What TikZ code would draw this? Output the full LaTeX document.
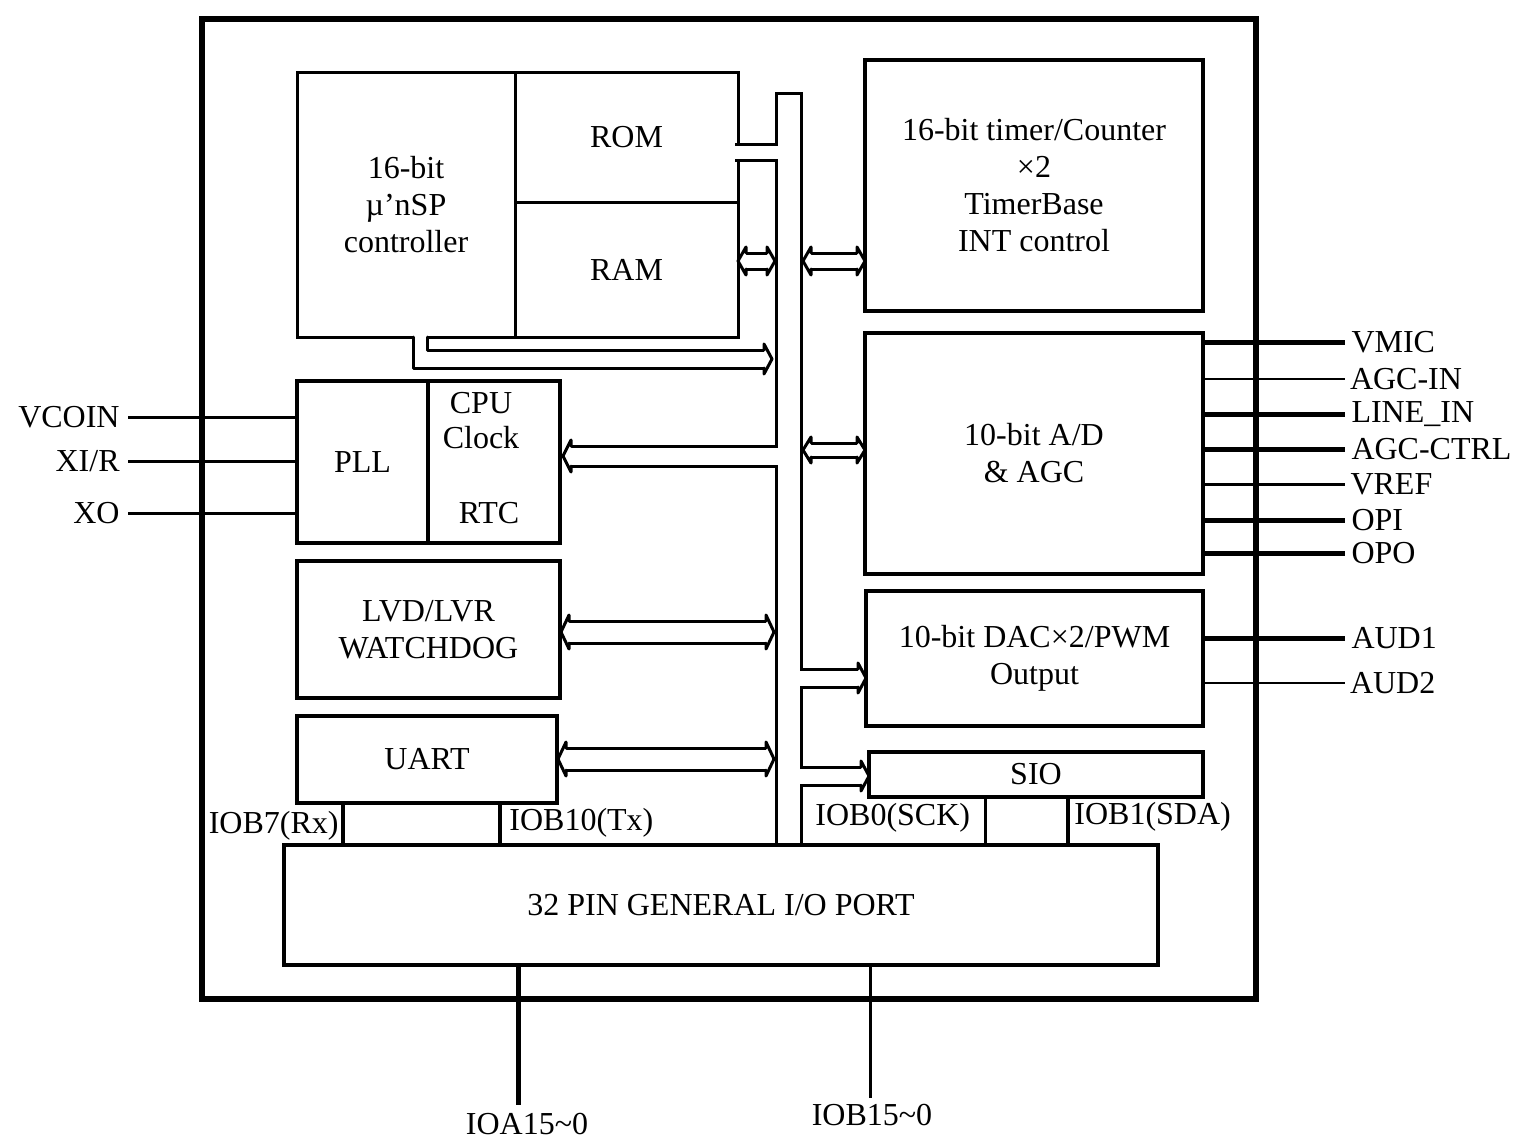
\documentclass[tikz,border=0pt]{standalone}
\usepackage{fontspec}
\setmainfont{Liberation Serif}
\usetikzlibrary{fit}
\tikzset{
  blk/.style={draw, line width=2pt, inner sep=0pt},
  blkthin/.style={blk, line width=1.5pt},
  hl/.style={line width=1.5pt, line join=round, line cap=round},
  pinA/.style={line width=2.5pt},
  pinB/.style={line width=1.5pt},
  pinC/.style={line width=1pt},
  lbl/.style={inner sep=0pt},
  txt/.style={inner sep=0pt, align=center},
}
% block: style, name, fit corners, text
\newcommand\blockbox[4]{%
  \node[#1, fit={#3}] (#2) {};
  \node[txt] (#2-t) at (#2.center) {#4};}
\newcommand\headR[3]{%
  \fill[white] (#1,#2) -- ({#1-8},{#2-#3-6}) -- ({#1-8},{#2+#3+6}) -- cycle;
  \draw[hl] ({#1-8},{#2-#3}) -- ({#1-8},{#2-#3-6}) -- (#1,#2) -- ({#1-8},{#2+#3+6}) -- ({#1-8},{#2+#3});}
\newcommand\headL[3]{%
  \fill[white] (#1,#2) -- ({#1+8},{#2-#3-6}) -- ({#1+8},{#2+#3+6}) -- cycle;
  \draw[hl] ({#1+8},{#2-#3}) -- ({#1+8},{#2-#3-6}) -- (#1,#2) -- ({#1+8},{#2+#3+6}) -- ({#1+8},{#2+#3});}
\newcommand\fatarr[4]{%
  \fill[white] ({#1+8},{#3-#4}) rectangle ({#2-8},{#3+#4});
  \draw[hl] ({#1+8},{#3-#4}) -- ({#2-8},{#3-#4}) ({#1+8},{#3+#4}) -- ({#2-8},{#3+#4});
  \headL{#1}{#3}{#4}\headR{#2}{#3}{#4}}
\begin{document}
\begin{tikzpicture}[x=0.5pt,y=-0.5pt,font=\fontsize{16}{18.5}\selectfont]
\useasboundingbox (0,0) rectangle (1515,1141);
% chip outline
\node[draw, line width=3pt, inner sep=0pt, fit={(202,19)(1256,999)}] (chip) {};

% blocks
\blockbox{blkthin}{ctrl}{(297,72)(515,337)}{16-bit\\µ'nSP\\controller}
\blockbox{blkthin}{rom}{(515,72)(738,202)}{ROM}
\blockbox{blkthin}{ram}{(515,202)(738,337)}{RAM}
\blockbox{blk}{timer}{(865,60)(1203,311)}{16-bit timer/Counter\\×2\\TimerBase\\INT control}
\blockbox{blk}{adc}{(865,333)(1203,574)}{10-bit A/D\\\& AGC}
\blockbox{blk}{dac}{(866,591)(1203,726)}{10-bit DAC×2/PWM\\Output}
\blockbox{blk}{sio}{(869,752)(1203,797)}{SIO}
\blockbox{blk}{pll}{(297,381)(428,543)}{PLL}
\node[blk, fit={(428,381)(560,543)}] (clk) {};
\node[lbl] (cpu) at (481,403) {CPU};
\node[lbl] (clock) at (481,438) {Clock};
\node[lbl] (rtc) at (489,513) {RTC};
\blockbox{blk}{lvd}{(297,561)(560,698)}{LVD/LVR\\WATCHDOG}
\blockbox{blk}{uart}{(297,716)(557,803)}{UART}

% internal bus with merging channels (outline pass, then interior pass)
\draw[line width=14pt] (788.5,92) -- (788.5,845);
\draw[line width=9.5pt] (735,152) -- (788.5,152);
\draw[line width=11.5pt] (571,456) -- (788.5,456);
\draw[line width=10.5pt] (788.5,678) -- (858,678);
\draw[line width=10.5pt] (788.5,776) -- (861,776);
\draw[white, line width=11pt] (788.5,95) -- (788.5,846);
\draw[white, line width=6.5pt] (735,152) -- (788.5,152);
\draw[white, line width=8.5pt] (571,456) -- (788.5,456);
\draw[white, line width=7.5pt] (788.5,678) -- (858,678);
\draw[white, line width=7.5pt] (788.5,776) -- (861,776);
\headL{563}{456}{10}
\headR{866}{678}{9}
\headR{869}{776}{9}

% controller channel to bus
\fill[white] (413,334) -- (413,368) -- (764,368) -- (764,350) -- (427,350) -- (427,334) -- cycle;
\draw[hl] (413,337) -- (413,368) -- (764,368) (427,337) -- (427,350) -- (764,350);
\headR{772}{359}{9}

% two-headed bus arrows
\fatarr{738}{775}{261}{8}
\fatarr{803}{865}{261}{8}
\fatarr{803}{865}{450}{7}
\fatarr{561}{774}{632}{11}
\fatarr{558}{774}{759}{11}

% I/O port
\blockbox{blk}{port}{(284,845)(1158,965)}{32 PIN GENERAL I/O PORT}

% port taps
\draw[line width=2pt] (343,803) -- (343,845);
\draw[line width=2pt] (500,803) -- (500,845);
\draw[line width=1.5pt] (985,797) -- (985,845);
\draw[line width=2pt] (1068,797) -- (1068,845);
\node[lbl, anchor=east] (rx) at (339,826) {IOB7(Rx)};
\node[lbl, anchor=west] (tx) at (509,823) {IOB10(Tx)};
\node[lbl, anchor=west] (sck) at (815,818) {IOB0(SCK)};
\node[lbl, anchor=west] (sda) at (1074,817) {IOB1(SDA)};

% bottom pins
\draw[line width=2.5pt] (518,965) -- (518,1105);
\node[lbl] (ioa) at (527,1124) {IOA15\textasciitilde0};
\draw[line width=1.5pt] (870,965) -- (870,1098);
\node[lbl] (iob) at (872,1115) {IOB15\textasciitilde0};

% left pins
\node[lbl, anchor=east] (vcoin) at (120,417) {VCOIN};
\node[lbl, anchor=east] (xi) at (120,461) {XI/R};
\node[lbl, anchor=east] (xo) at (120,513) {XO};
\draw[pinB] (128,417) -- (297,417);
\draw[pinB] (128,461) -- (297,461);
\draw[pinB] (128,513) -- (297,513);

% right pins
\draw[pinA] (1204,342) -- (1345,342) node[lbl, anchor=west, xshift=2pt] (vmic) {VMIC};
\draw[pinC] (1204,379) -- (1345,379) node[lbl, anchor=west, xshift=2pt] (agcin) {AGC-IN};
\draw[pinA] (1204,414) -- (1345,414) node[lbl, anchor=west, xshift=2pt] (linein) {LINE\_IN};
\draw[pinA] (1204,449) -- (1345,449) node[lbl, anchor=west, xshift=2pt] (agcctrl) {AGC-CTRL};
\draw[pinB] (1204,484) -- (1345,484) node[lbl, anchor=west, xshift=2pt] (vref) {VREF};
\draw[pinA] (1204,520) -- (1345,520) node[lbl, anchor=west, xshift=2pt] (opi) {OPI};
\draw[pinA] (1204,553) -- (1345,553) node[lbl, anchor=west, xshift=2pt] (opo) {OPO};
\draw[pinA] (1204,638) -- (1345,638) node[lbl, anchor=west, xshift=2pt] (aud1) {AUD1};
\draw[pinC] (1204,683) -- (1345,683) node[lbl, anchor=west, xshift=2pt] (aud2) {AUD2};
\end{tikzpicture}
\end{document}
